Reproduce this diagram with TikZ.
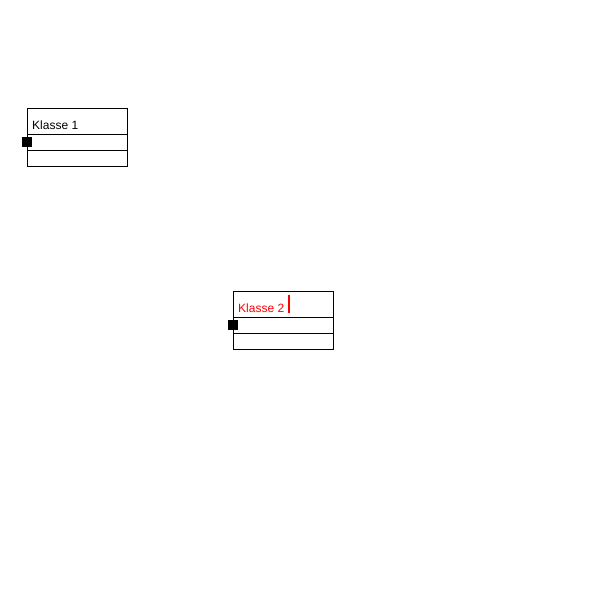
\documentclass[tikz,border=0pt]{standalone}
\usepackage{fontspec}
\setmainfont{Liberation Sans}
\usetikzlibrary{positioning}

\tikzset{
  kopf/.style={draw, line width=1pt, outer sep=0pt, inner sep=0pt, minimum width=100pt, minimum height=26pt, anchor=north west},
  fach/.style={draw, line width=1pt, outer sep=0pt, inner sep=0pt, minimum width=100pt, minimum height=16pt},
  griff/.style={fill=black, inner sep=0pt, minimum size=10pt},
  titel/.style={anchor=base west, inner sep=0pt, font=\fontsize{12}{14}\selectfont},
}

\begin{document}
\begin{tikzpicture}[x=1pt, y=-1pt]
\useasboundingbox (0,0) rectangle (600,600);

% Klasse 1
\node [kopf] (k1) at (27,108) {};
\node [fach, below=0pt of k1] (k1a) {};
\node [fach, below=0pt of k1a] (k1b) {};
\node [titel] (t1) at (32,129.5) {Klasse 1};
\node [griff] (g1) at (k1a.west) {};

% Klasse 2 (wird gerade bearbeitet)
\node [kopf] (k2) at (233,291) {};
\node [fach, below=0pt of k2] (k2a) {};
\node [fach, below=0pt of k2a] (k2b) {};
\node [titel, text=red] (t2) at (238,312.5) {Klasse 2};
\node [griff] (g2) at (k2a.west) {};
\node [fill=red, inner sep=0pt, minimum width=2pt, minimum height=18pt] (c2) at (289,304) {};

\end{tikzpicture}
\end{document}
